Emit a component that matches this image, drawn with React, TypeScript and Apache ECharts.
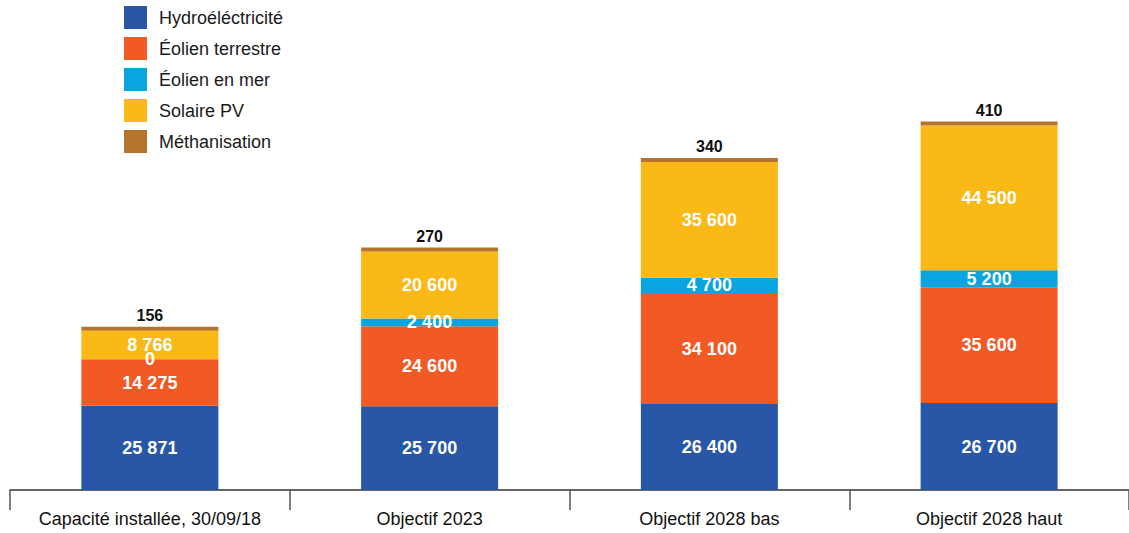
import React, { useEffect, useRef } from "react";
import * as echarts from "echarts";

const categories = [
  "Capacité installée, 30/09/18",
  "Objectif 2023",
  "Objectif 2028 bas",
  "Objectif 2028 haut",
];
const hydro = [25871, 25700, 26400, 26700];
const eolienTerrestre = [14275, 24600, 34100, 35600];
const eolienMer = [0, 2400, 4700, 5200];
const solaire = [8766, 20600, 35600, 44500];
const methanisation = [156, 270, 340, 410];

const fmt = (v: number) => String(v).replace(/\B(?=(\d{3})+(?!\d))/g, " ");

export default function App() {
  const ref = useRef<HTMLDivElement>(null);
  useEffect(() => {
    const chart = echarts.init(ref.current!, null, { renderer: "svg" });
    const font = "'Liberation Sans', Arial, Helvetica, sans-serif";
    const inside = {
      show: true,
      position: "inside" as const,
      color: "#fff",
      fontWeight: "bold" as const,
      fontSize: 18,
      fontFamily: font,
      formatter: (p: any) => fmt(p.value),
    };
    const mk = (name: string, data: number[], color: string, extra: any = {}) => ({
      name,
      type: "bar",
      stack: "total",
      data,
      barWidth: 137,
      itemStyle: { color },
      label: inside,
      ...extra,
    });
    chart.setOption({
      animation: false,
      textStyle: { fontFamily: font },
      legend: {
        orient: "vertical",
        left: 124,
        top: 6,
        padding: 0,
        itemWidth: 23,
        itemHeight: 23,
        itemGap: 8,
        icon: "rect",
        textStyle: { fontSize: 18, color: "#1a1a1a", fontFamily: font, padding: [0, 0, 0, 7] },
        data: ["Hydroéléctricité", "Éolien terrestre", "Éolien en mer", "Solaire PV", "Méthanisation"],
      },
      grid: { left: 10, width: 1120, top: 106, bottom: 43 },
      xAxis: {
        type: "category",
        data: categories,
        axisLine: { lineStyle: { color: "#333", width: 1.5 } },
        axisTick: { show: true, interval: 0, length: 20, lineStyle: { color: "#555", width: 1.5 } },
        axisLabel: { interval: 0, fontSize: 18, color: "#111", margin: 20, fontFamily: font },
      },
      yAxis: {
        type: "value",
        min: 0,
        max: 118000,
        show: false,
        splitLine: { show: false },
      },
      series: [
        mk("Hydroéléctricité", hydro, "#2757A6"),
        mk("Éolien terrestre", eolienTerrestre, "#F15A24"),
        mk("Éolien en mer", eolienMer, "#0AA5E0"),
        mk("Solaire PV", solaire, "#FBB917"),
        mk("Méthanisation", methanisation, "#B5742A", {
          barMinHeight: 4,
          label: {
            show: true,
            position: "top",
            distance: 3,
            color: "#111",
            fontWeight: "bold",
            fontSize: 16,
            fontFamily: font,
            formatter: (p: any) => fmt(p.value),
          },
        }),
      ],
    });
    return () => chart.dispose();
  }, []);
  return (
    <div
      ref={ref}
      style={{ position: "fixed", left: 0, top: 0, width: 1129, height: 533, background: "#fff" }}
    />
  );
}
